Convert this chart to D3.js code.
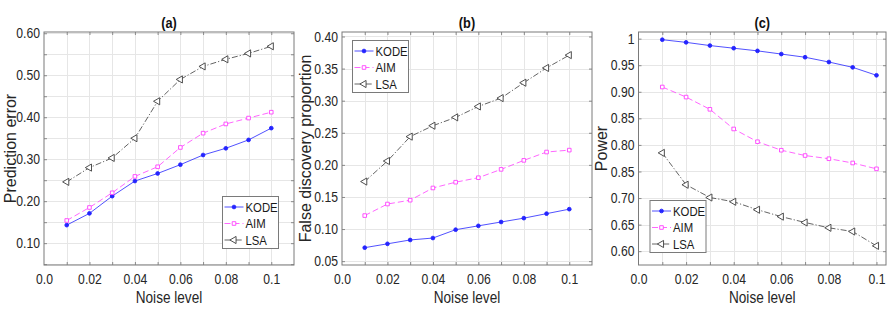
<!DOCTYPE html>
<html>
<head>
<meta charset="utf-8">
<script src="https://cdn.jsdelivr.net/npm/d3@7/dist/d3.min.js"></script>
<style>
  body { margin: 0; background: #fff; }
  svg { display: block; font-family: "Liberation Sans", Arial, sans-serif; }
</style>
</head>
<body>
<svg id="chart" width="893" height="312"></svg>
<script>
// noise levels on the x axis (same for all three panels)
var noise = [0.01, 0.02, 0.03, 0.04, 0.05, 0.06, 0.07, 0.08, 0.09, 0.1];

// (a) prediction error
var kodeErr = [0.143, 0.171, 0.212, 0.248, 0.266, 0.287, 0.310, 0.326, 0.346, 0.374];
var aimErr  = [0.154, 0.185, 0.220, 0.259, 0.282, 0.328, 0.362, 0.384, 0.398, 0.412];
var lsaErr  = [0.246, 0.280, 0.303, 0.350, 0.438, 0.490, 0.521, 0.538, 0.552, 0.569];

// (b) false discovery proportion
var kodeFdp = [0.071, 0.077, 0.083, 0.086, 0.099, 0.105, 0.111, 0.117, 0.124, 0.131];
var aimFdp  = [0.121, 0.139, 0.145, 0.164, 0.173, 0.180, 0.193, 0.207, 0.220, 0.223];
var lsaFdp  = [0.174, 0.206, 0.244, 0.261, 0.274, 0.291, 0.304, 0.328, 0.351, 0.371];

// (c) power
var kodePow = [0.998, 0.993, 0.987, 0.982, 0.977, 0.971, 0.965, 0.956, 0.946, 0.931];
var aimPow  = [0.909, 0.890, 0.867, 0.830, 0.806, 0.790, 0.780, 0.774, 0.766, 0.755];
var lsaPow  = [0.785, 0.725, 0.701, 0.693, 0.678, 0.665, 0.654, 0.644, 0.637, 0.610];

var seriesNames = ["KODE", "AIM", "LSA"];

// tick labels
var xTickVals = [0, 0.02, 0.04, 0.06, 0.08, 0.1];
var xTickLabels = ["0.0", "0.02", "0.04", "0.06", "0.08", "0.1"];
var yTickValsA = [0.1, 0.2, 0.3, 0.4, 0.5, 0.6];
var yTickLabelsA = ["0.10", "0.20", "0.30", "0.40", "0.50", "0.60"];
var yTickValsB = [0.05, 0.1, 0.15, 0.2, 0.25, 0.3, 0.35, 0.4];
var yTickLabelsB = ["0.05", "0.10", "0.15", "0.20", "0.25", "0.30", "0.35", "0.40"];
var yTickValsC = [0.6, 0.65, 0.7, 0.75, 0.8, 0.85, 0.9, 0.95, 1];
var yTickLabelsC = ["0.60", "0.65", "0.70", "0.85", "0.80", "0.85", "0.90", "0.95", "1"];

var styles = [
  {color: "#2424ff", dash: null,        sym: d3.symbolCircle,   size: 11, fill: true,  rot: 0},
  {color: "#ff40ff", dash: "6,3",       sym: d3.symbolSquare,   size: 13, fill: false, rot: 0},
  {color: "#3c3c3c", dash: "6,2,1.2,2", sym: d3.symbolTriangle, size: 22, fill: false, rot: -90}
];

var panels = [
  {title: "(a)", ylabel: "Prediction error", series: [kodeErr, aimErr, lsaErr],
   left: 44, right: 294, xmax: 0.11, ydom: [0.048, 0.603], ystep: 0.05,
   yticks: yTickValsA, ylabels: yTickLabelsA, ylabX: 15.5,
   legend: {x: 222.5, y: 196.5}},
  {title: "(b)", ylabel: "False discovery proportion", series: [kodeFdp, aimFdp, lsaFdp],
   left: 342, right: 592, xmax: 0.11, ydom: [0.044, 0.407], ystep: 0.05,
   yticks: yTickValsB, ylabels: yTickLabelsB, ylabX: 311,
   legend: {x: 352.5, y: 40.5}},
  {title: "(c)", ylabel: "Power", series: [kodePow, aimPow, lsaPow],
   left: 638.5, right: 886, xmax: 0.104, ydom: [0.574, 1.0125], ystep: 0.05,
   yticks: yTickValsC, ylabels: yTickLabelsC, ylabX: 607,
   legend: {x: 650, y: 200.5}}
];

var plotTop = 32, plotBottom = 265;
var svg = d3.select("#chart");

function squeeze(sel, f) {
  sel.each(function() {
    var l = this.getComputedTextLength();
    d3.select(this).attr("textLength", l * f).attr("lengthAdjust", "spacingAndGlyphs");
  });
}

function marker(g, st) {
  g.append("path")
    .attr("d", d3.symbol().type(st.sym).size(st.size)())
    .attr("transform", "rotate(" + st.rot + ")")
    .attr("fill", st.fill ? st.color : "#fff")
    .attr("stroke", st.color)
    .attr("stroke-width", 0.9);
}

panels.forEach(function(p) {
  var x = d3.scaleLinear().domain([0, p.xmax]).range([p.left, p.right]);
  var y = d3.scaleLinear().domain(p.ydom).range([plotBottom, plotTop]);
  var g = svg.append("g");

  // grid
  var gx = noise;
  var gy = d3.range(Math.ceil(p.ydom[0] / p.ystep - 1e-6), Math.floor(p.ydom[1] / p.ystep + 1e-6) + 1)
             .map(function(i) { return i * p.ystep; });
  g.selectAll(".vg").data(gx).enter().append("line")
    .attr("x1", function(d) { return Math.round(x(d)) + 0.5; })
    .attr("x2", function(d) { return Math.round(x(d)) + 0.5; })
    .attr("y1", plotTop).attr("y2", plotBottom)
    .attr("stroke", "#e6e6e6").attr("stroke-width", 1);
  g.selectAll(".hg").data(gy).enter().append("line")
    .attr("x1", p.left).attr("x2", p.right)
    .attr("y1", function(d) { return Math.round(y(d)) + 0.5; })
    .attr("y2", function(d) { return Math.round(y(d)) + 0.5; })
    .attr("stroke", "#e6e6e6").attr("stroke-width", 1);

  // small inward ticks on all four sides
  var tk = "#8a8a8a";
  [[d3.axisBottom(x), "translate(0," + plotBottom + ")"],
   [d3.axisTop(x), "translate(0," + plotTop + ")"]].forEach(function(a) {
    var ax = g.append("g").attr("transform", a[1])
      .call(a[0].tickValues(gx).tickSize(-3).tickFormat(""));
    ax.select(".domain").remove();
    ax.selectAll("line").attr("stroke", tk);
  });
  [[d3.axisLeft(y), "translate(" + p.left + ",0)"],
   [d3.axisRight(y), "translate(" + p.right + ",0)"]].forEach(function(a) {
    var ax = g.append("g").attr("transform", a[1])
      .call(a[0].tickValues(gy).tickSize(-3).tickFormat(""));
    ax.select(".domain").remove();
    ax.selectAll("line").attr("stroke", tk);
  });

  // box
  g.append("rect")
    .attr("x", p.left).attr("y", plotTop)
    .attr("width", p.right - p.left).attr("height", plotBottom - plotTop)
    .attr("fill", "none").attr("stroke", "#7a7a7a").attr("stroke-width", 1);

  // tick labels
  var xa = g.append("g").attr("transform", "translate(0," + plotBottom + ")")
    .call(d3.axisBottom(x).tickValues(xTickVals).tickSize(0).tickPadding(9)
      .tickFormat(function(d, i) { return xTickLabels[i]; }));
  xa.select(".domain").remove();
  xa.selectAll("text").attr("font-size", 14.5).attr("fill", "#262626")
    .attr("font-family", "Liberation Sans, Arial, sans-serif");
  squeeze(xa.selectAll("text"), 0.84);

  var ya = g.append("g").attr("transform", "translate(" + p.left + ",0)")
    .call(d3.axisLeft(y).tickValues(p.yticks).tickSize(0).tickPadding(4)
      .tickFormat(function(d, i) { return p.ylabels[i]; }));
  ya.select(".domain").remove();
  ya.selectAll("text").attr("font-size", 14.5).attr("fill", "#262626")
    .attr("font-family", "Liberation Sans, Arial, sans-serif");
  squeeze(ya.selectAll("text"), 0.84);

  // titles / labels
  var cx = (p.left + p.right) / 2;
  var t = g.append("text").attr("x", cx).attr("y", 27.5).attr("text-anchor", "middle")
    .attr("font-size", 15).attr("font-weight", "bold").attr("fill", "#111").text(p.title);
  squeeze(t, 0.85);
  var xl = g.append("text").attr("x", cx).attr("y", 303).attr("text-anchor", "middle")
    .attr("font-size", 16).attr("fill", "#262626").text("Noise level");
  squeeze(xl, 0.85);
  g.append("text").attr("transform", "translate(" + p.ylabX + "," + ((plotTop + plotBottom) / 2) + ") rotate(-90)")
    .attr("text-anchor", "middle").attr("font-size", 16).attr("fill", "#262626").text(p.ylabel);

  // series
  var line = d3.line().x(function(d, i) { return x(noise[i]); }).y(function(d) { return y(d); });
  p.series.forEach(function(vals, k) {
    var st = styles[k];
    g.append("path").attr("d", line(vals)).attr("fill", "none")
      .attr("stroke", st.color).attr("stroke-width", 0.8)
      .attr("stroke-dasharray", st.dash);
    g.selectAll(".m" + k).data(vals).enter().append("g")
      .attr("transform", function(d, i) { return "translate(" + x(noise[i]) + "," + y(d) + ")"; })
      .each(function() { marker(d3.select(this), st); });
  });

  // legend
  var L = p.legend;
  var lg = g.append("g").attr("transform", "translate(" + L.x + "," + L.y + ")");
  lg.append("rect").attr("width", 56).attr("height", 52)
    .attr("fill", "#fff").attr("stroke", "#7a7a7a").attr("stroke-width", 1);
  seriesNames.forEach(function(name, k) {
    var st = styles[k];
    var ry = 10.5 + k * 16.5;
    lg.append("line").attr("x1", 2).attr("x2", 21).attr("y1", ry).attr("y2", ry)
      .attr("stroke", st.color).attr("stroke-width", 0.8).attr("stroke-dasharray", st.dash);
    var mg = lg.append("g").attr("transform", "translate(11.5," + ry + ")");
    marker(mg, st);
    var lt = lg.append("text").attr("x", 23).attr("y", ry).attr("dy", "0.36em")
      .attr("font-size", 13.5).attr("fill", "#1a1a1a").text(name);
    squeeze(lt, 0.84);
  });
});
</script>
</body>
</html>
